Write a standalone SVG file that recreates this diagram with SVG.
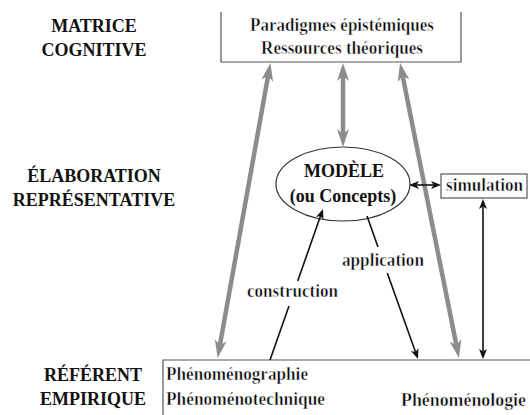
<svg xmlns="http://www.w3.org/2000/svg" width="530" height="415" viewBox="0 0 530 415">
<defs>
<style>
text{font-family:'Liberation Serif','Times New Roman',serif;font-size:18px;font-weight:bold}
.lbl{fill:#111;text-anchor:middle}
.reg{fill:#000;stroke:#fff;stroke-width:0.5;font-size:18.5px}
.tb{fill:#111;text-anchor:middle}
.box{fill:none;stroke:#555;stroke-width:1.2}
.gray{stroke:#8c8c8c;stroke-width:4.5;fill:none;marker-start:url(#ga);marker-end:url(#ga)}
.blk{stroke:#111;stroke-width:1.6;fill:none}
</style>
<marker id="ga" viewBox="0 0 18 12" refX="5" refY="6" markerWidth="18" markerHeight="12" markerUnits="userSpaceOnUse" orient="auto-start-reverse">
<path d="M0,0 L18,6 L0,12 L5,6 Z" fill="#8c8c8c"/>
</marker>
<marker id="ba" viewBox="0 0 10 8" refX="2.5" refY="4" markerWidth="10" markerHeight="8" markerUnits="userSpaceOnUse" orient="auto-start-reverse">
<path d="M0,0 L10,4 L0,8 L2.5,4 Z" fill="#111"/>
</marker>
</defs>
<rect width="530" height="415" fill="#fff"/>
<g id="labels">
<text class="lbl" x="94" y="32">MATRICE</text>
<text class="lbl" x="94" y="56">COGNITIVE</text>
<text class="lbl" x="94" y="182">ÉLABORATION</text>
<text class="lbl" x="94" y="206">REPRÉSENTATIVE</text>
<text class="lbl" x="93" y="381">RÉFÉRENT</text>
<text class="lbl" x="93" y="405">EMPIRIQUE</text>
</g>
<g id="matrice">
<path class="box" d="M221,12 V62 H461 V12"/>
<text class="reg" x="250" y="31" textLength="184" lengthAdjust="spacingAndGlyphs">Paradigmes épistémiques</text>
<text class="reg" x="261" y="54" textLength="162" lengthAdjust="spacingAndGlyphs">Ressources théoriques</text>
</g>
<g id="modele">
<ellipse cx="343" cy="184" rx="67" ry="37" fill="none" stroke="#333" stroke-width="1.2"/>
<text class="tb" x="344" y="177">MODÈLE</text>
<text class="tb" x="343" y="202">(ou Concepts)</text>
</g>
<g id="simulation">
<rect class="box" x="441" y="174" width="86" height="24" stroke="#222"/>
<text class="reg" x="446" y="191" textLength="77" lengthAdjust="spacingAndGlyphs">simulation</text>
</g>
<g id="referent">
<path class="box" d="M163,415 V360 H530"/>
<text class="reg" x="166" y="380" textLength="142" lengthAdjust="spacingAndGlyphs">Phénoménographie</text>
<text class="reg" x="166" y="405" textLength="159" lengthAdjust="spacingAndGlyphs">Phénoménotechnique</text>
<text class="reg" x="401" y="406" textLength="125" lengthAdjust="spacingAndGlyphs">Phénoménologie</text>
</g>
<g id="connectors">
<line class="gray" x1="268.1" y1="75.8" x2="219.9" y2="345.2"/>
<line class="gray" x1="402.6" y1="75.8" x2="456.4" y2="345.2"/>
<line class="gray" x1="343" y1="76" x2="343" y2="134"/>
<line class="blk" x1="270" y1="360" x2="289" y2="306"/>
<line class="blk" x1="297.7" y1="281" x2="320.5" y2="216.1" marker-end="url(#ba)"/>
<text class="reg" x="247" y="297" textLength="91" lengthAdjust="spacingAndGlyphs">construction</text>
<line class="blk" x1="367" y1="216" x2="378" y2="247"/>
<line class="blk" x1="387.3" y1="273" x2="415.5" y2="351.9" marker-end="url(#ba)"/>
<text class="reg" x="342" y="266" textLength="82" lengthAdjust="spacingAndGlyphs">application</text>
<line class="blk" x1="483" y1="206.5" x2="483" y2="351.5" marker-start="url(#ba)" marker-end="url(#ba)"/>
<line class="blk" x1="416.5" y1="185" x2="433.5" y2="185" marker-start="url(#ba)" marker-end="url(#ba)"/>
</g>
</svg>
